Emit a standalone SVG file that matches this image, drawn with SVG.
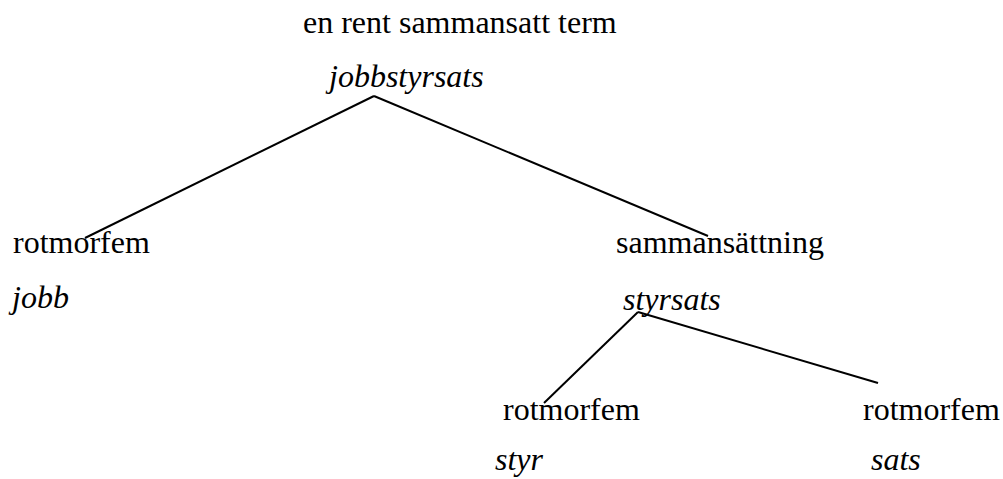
<svg xmlns="http://www.w3.org/2000/svg" width="1003" height="479" viewBox="0 0 1003 479">
  <style>
    text { font-family: "Times New Roman", "Liberation Serif", Times, "DejaVu Serif", serif; font-size: 32px; fill: #000; }
    .term { font-style: italic; }
    .edge { stroke: #000; stroke-width: 2; fill: none; }
  </style>
  <rect width="1003" height="479" fill="#fff"/>

  <!-- tree edges -->
  <g id="connectors">
    <line class="edge" x1="374" y1="96" x2="85" y2="238"/>
    <line class="edge" x1="374" y1="96" x2="708" y2="236"/>
    <line class="edge" x1="638" y1="312" x2="544" y2="403"/>
    <line class="edge" x1="638" y1="312" x2="878" y2="383"/>
  </g>

  <g id="root">
    <text x="303" y="33">en rent sammansatt term</text>
    <text class="term" x="329" y="87">jobbstyrsats</text>
  </g>

  <g id="jobb">
    <text x="13" y="253">rotmorfem</text>
    <text class="term" x="12" y="308">jobb</text>
  </g>

  <g id="styrsats">
    <text x="616" y="253">sammansättning</text>
    <text class="term" x="623" y="310">styrsats</text>
  </g>

  <g id="styr">
    <text x="503" y="420">rotmorfem</text>
    <text class="term" x="495" y="470">styr</text>
  </g>

  <g id="sats">
    <text x="863" y="420">rotmorfem</text>
    <text class="term" x="871" y="470">sats</text>
  </g>
</svg>
